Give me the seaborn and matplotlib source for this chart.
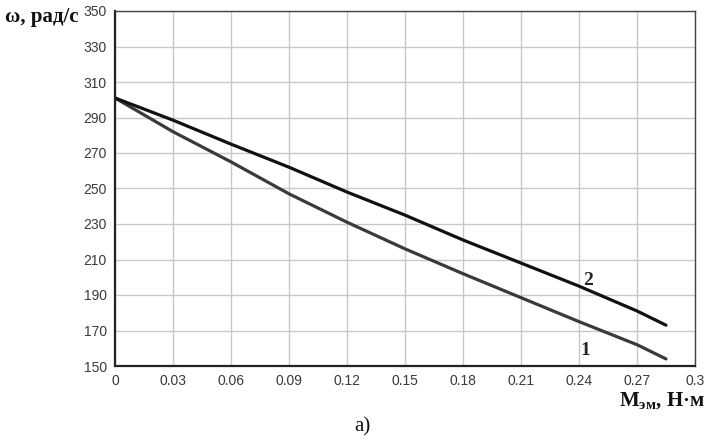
import matplotlib
matplotlib.use("Agg")
import matplotlib.pyplot as plt
import seaborn as sns
import pandas as pd

sns.set_style("white")

torque = [0.0, 0.03, 0.06, 0.09, 0.12, 0.15, 0.18, 0.21, 0.24, 0.27, 0.285]
omega_1 = [301, 282, 265, 247, 231, 216, 202, 188.5, 175, 162, 154]
omega_2 = [301, 288.5, 275, 262, 248, 235, 221, 208, 195, 181, 173]
x_ticks = [0, 0.03, 0.06, 0.09, 0.12, 0.15, 0.18, 0.21, 0.24, 0.27, 0.3]
x_tick_labels = ["0", "0.03", "0.06", "0.09", "0.12", "0.15", "0.18", "0.21", "0.24", "0.27", "0.3"]
y_ticks = [150, 170, 190, 210, 230, 250, 270, 290, 310, 330, 350]

df = pd.DataFrame({"M": torque * 2,
                   "w": omega_1 + omega_2,
                   "curve": ["1"] * len(torque) + ["2"] * len(torque)})

fig = plt.figure(figsize=(7.12, 4.41), dpi=100)
ax = fig.add_axes([115 / 712, 1 - 366 / 441, (695 - 115) / 712, (366 - 11) / 441])

sns.lineplot(data=df, x="M", y="w", hue="curve", palette={"1": "#3a3a3a", "2": "#111111"},
             linewidth=2.3, ax=ax, legend=False)

ax.set_xlim(0, 0.3)
ax.set_ylim(150, 350)
ax.set_xticks(x_ticks)
ax.set_xticklabels(x_tick_labels)
ax.set_yticks(y_ticks)
ax.grid(True, color="#c8c8c8", linewidth=1.0)
ax.set_xlabel("")
ax.set_ylabel("")
for s in ["left", "bottom"]:
    ax.spines[s].set_color("#222222")
    ax.spines[s].set_linewidth(1.6)
for s in ["right", "top"]:
    ax.spines[s].set_color("#444444")
    ax.spines[s].set_linewidth(1.0)
ax.tick_params(axis="both", length=0, labelsize=10, labelcolor="#3a3a3a", pad=6)
for lab in ax.get_xticklabels() + ax.get_yticklabels():
    lab.set_fontfamily("Liberation Sans")
    lab.set_fontstretch("condensed")

serif = "Liberation Serif"
fig.text(5 / 712, 1 - 17 / 441, "ω, рад/с", fontsize=15, fontweight="bold", family=serif,
         va="center", ha="left", color="#111111")
fig.text(705 / 712, 1 - 391 / 441, "M$_{\\mathregular{эм}}$, Н·м", fontsize=15, fontweight="bold",
         family=serif, va="top", ha="right", color="#111111")
fig.text(362 / 712, 1 - 427 / 441, "а)", fontsize=15, family=serif, va="center", ha="center",
         color="#111111")
ax.text(0.2445, 198, "2", fontsize=14, fontweight="bold", family=serif, ha="center", va="center")
ax.text(0.2435, 159, "1", fontsize=14, fontweight="bold", family=serif, ha="center", va="center")

fig.savefig("out.png", dpi=100)
